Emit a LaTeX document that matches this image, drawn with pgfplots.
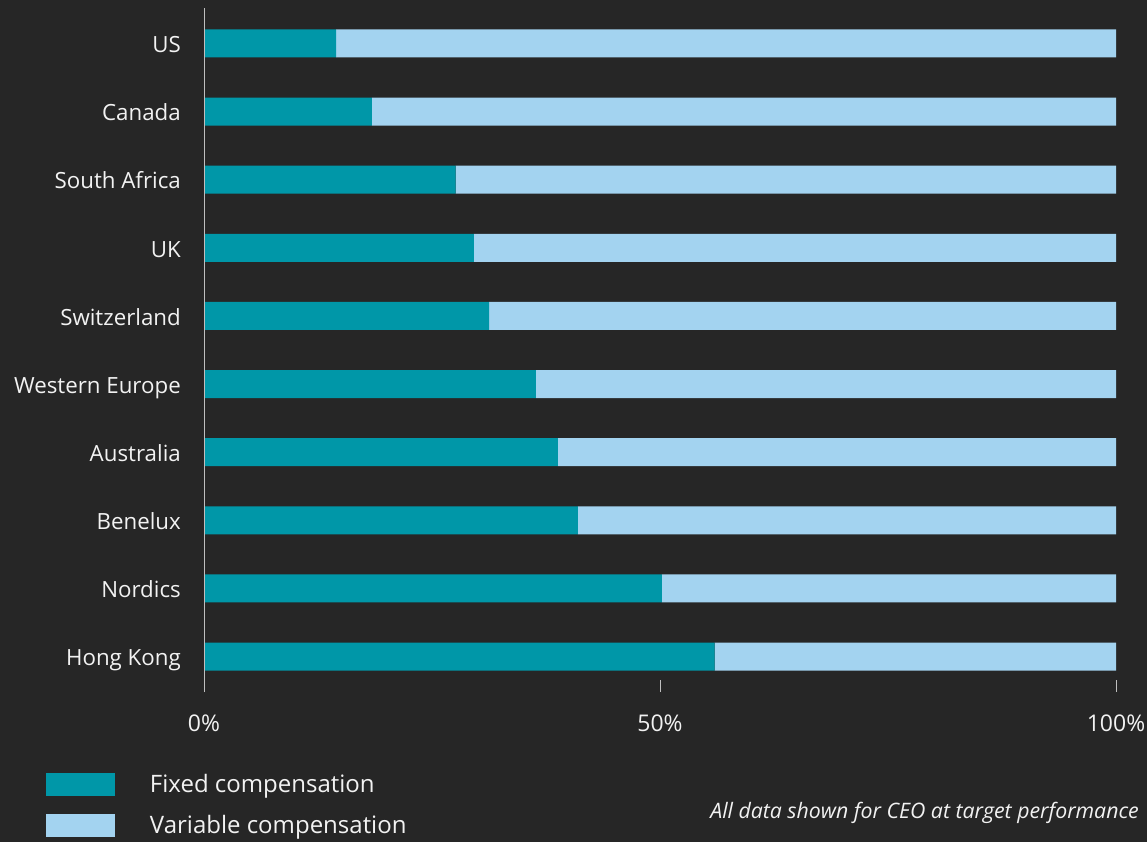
\documentclass[border=0pt]{standalone}
\usepackage{pgfplots}
\usepackage{pgfplotstable}
\pgfplotsset{compat=1.18}
\usepackage{fontspec}
\setmainfont{Open Sans}
\definecolor{bg}{HTML}{262626}
\definecolor{fixedc}{HTML}{0097A8}
\definecolor{varc}{HTML}{A3D3F0}
\definecolor{txt}{HTML}{F2F2F2}
\definecolor{axc}{HTML}{BFBFBF}
\pgfplotstableread{
idx fixed variable
0 56.0 44.0
1 50.2 49.8
2 41.0 59.0
3 38.8 61.2
4 36.4 63.6
5 31.25 68.75
6 29.6 70.4
7 27.6 72.4
8 18.4 81.6
9 14.5 85.5
}\datatable
\pgfplotsset{mylegend/.style={legend image code/.code={\path[draw=none,fill=none] (0pt,-20.5pt) rectangle (104pt,20.5pt);\fill[##1] (0pt,-11.5pt) rectangle (69pt,11.5pt);}}}
\begin{document}
\begin{tikzpicture}[x=1pt,y=1pt]
\fill[bg] (0,0) rectangle (1147,842);
\begin{axis}[
  at={(204pt,150pt)}, anchor=south west,
  width=912pt, height=684pt, scale only axis,
  xbar stacked, bar width=28pt,
  xmin=0, xmax=100, ymin=-0.52, ymax=9.52,
  ytick={0,...,9},
  yticklabels={Hong Kong,Nordics,Benelux,Australia,Western Europe,Switzerland,UK,South Africa,Canada,US},
  xtick={0,50,100},
  xticklabels={0\%,50\%,100\%},
  axis line style={draw=none},
  xtick pos=bottom,
  tick align=inside,
  major tick length=12pt,
  x tick style={axc, line width=0.8pt},
  y tick style={draw=none},
  /pgf/number format/assume math mode=true,
  tick label style={font=\fontsize{23}{27}\selectfont, text=txt, inner sep=0pt},
  xticklabel style={anchor=north, yshift=-23pt},
  yticklabel style={anchor=base east, xshift=-23pt, yshift=-9.3pt, font=\fontsize{22.3}{26}\selectfont},
  legend style={at={(0,0)}, anchor=north west, xshift=-158pt, yshift=-72pt,
    draw=none, fill=none, inner sep=0pt, outer sep=0pt, row sep=0pt, column sep=0pt,
    nodes={inner sep=0pt, text=txt, font=\fontsize{24}{28}\selectfont}},
  legend cell align=left,
  extra description/.code={\draw[axc, line width=1pt] (0,0) -- (0,1);},
  clip=false,
]
\addplot[fill=fixedc, draw=none, mylegend] table[x=fixed, y=idx] \datatable;
\addlegendentry{Fixed compensation}
\addplot[fill=varc, draw=none, mylegend] table[x=variable, y=idx] \datatable;
\addlegendentry{Variable compensation}
\end{axis}
\node[anchor=base east, inner sep=0pt, text=txt, font=\fontsize{21.3}{25}\selectfont\itshape] at (1139,24) {All data shown for CEO at target performance};
\end{tikzpicture}
\end{document}
